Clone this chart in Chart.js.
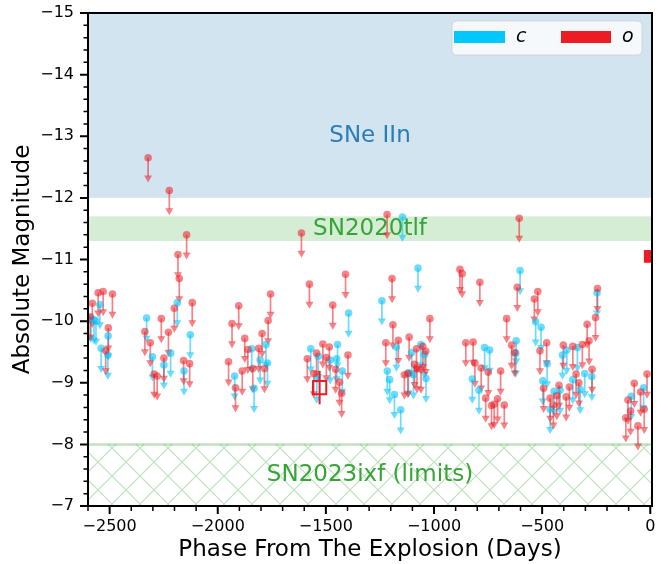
<!DOCTYPE html>
<html>
<head>
<meta charset="utf-8">
<script src="https://cdn.jsdelivr.net/npm/chart.js@4.4.1/dist/chart.umd.min.js"></script>
<style>
  html, body { margin: 0; padding: 0; background: #fff; }
</style>
</head>
<body>
<canvas id="chart" width="670" height="564"></canvas>
<script>
// upper limits in the c filter (phase in days, absolute magnitude)
const cPhase = [-2545, -2572, -2563, -2507, -2539, -2508, -2586,
  -2329, -2302, -2249, -2218, -2187, -2156, -2127,
  -1922, -1843, -1832, -1804, -1777, -1770,
  -1395, -1570, -1535, -1446, -1480, -1450, -1424, -1542,
  -1146, -1074, -1241, -1174, -1103, -1061, -1044, -1216, -1205, -1118, -1095, -1037, -1183, -1154,
  -602, -766, -743, -823, -792, -620, -622,
  -530, -505, -497, -477, -463, -445, -417, -406, -386, -358, -337, -324, -303, -270, -246,
  -88, -31]
const cMag = [-10.27, -10.02, -10.00, -9.76, -9.56, -9.45, -10.05,
  -10.05, -9.42, -9.29, -9.48, -10.30, -9.19, -9.78,
  -9.11, -9.55, -8.91, -9.37, -9.62, -9.32,
  -10.13, -9.55, -9.43, -9.62, -9.37, -9.39, -9.19, -9.06,
  -11.69, -10.86, -10.33, -9.58, -9.49, -9.62, -9.46, -9.19, -9.05, -9.16, -9.13, -9.07, -8.81, -8.56,
  -10.82, -9.57, -9.53, -9.06, -8.88, -9.68, -9.48,
  -9.99, -9.90, -9.03, -9.31, -8.57, -8.86, -8.88, -9.45, -9.53, -9.05, -9.57, -8.89, -9.15, -9.10, -10.46,
  -8.78, -8.92]

// upper limits in the o filter
const oPhase = [-2590, -2580, -2553, -2530, -2487, -2506, -2518,
  -2322, -2224, -2144, -2184, -2178, -2201, -2118, -2261, -2337, -2312, -2294, -2280, -2249, -2228, -2158, -2130,
  -1950, -1934, -1918, -1903, -1887, -1875, -1861, -1838, -1811, -1795, -1784, -1767, -1756,
  -1613, -1576, -1409, -1468, -1586, -1543, -1514, -1484, -1498, -1398, -1556, -1455, -1437, -1427,
  -1217, -1194, -1019, -1190, -1223, -1165, -1115, -1081, -1052, -1038, -1090, -1079, -1060, -1137, -1121,
  -880, -870, -788, -606, -615, -520, -536, -664, -853, -819, -811, -782, -749, -761, -734, -722, -706, -675, -692, -641, -627,
  -479, -510, -493, -463, -448, -432, -422, -389, -402, -374, -358, -343, -330, -314, -283, -292, -269, -253, -244,
  -113, -91, -103, -74, -57, -45, -28, -15]
const oMag = [-10.07, -10.29, -10.46, -10.48, -10.44, -9.89, -9.52,
  -12.65, -12.12, -11.40, -11.08, -10.69, -10.21, -10.30, -10.04, -9.83, -9.65, -9.14, -9.11, -9.40, -9.82, -9.36, -9.31,
  -9.34, -9.96, -8.92, -10.25, -9.19, -9.72, -9.54, -9.23, -9.56, -9.80, -9.23, -10.01, -10.44,
  -11.43, -10.60, -10.76, -10.26, -9.39, -9.48, -9.63, -9.58, -9.41, -9.45, -9.15, -9.22, -9.01, -8.83,
  -11.73, -10.69, -10.04, -9.94, -9.65, -9.69, -9.74, -9.55, -9.59, -9.51, -9.30, -9.23, -9.22, -9.13, -9.15,
  -10.84, -10.77, -10.63, -11.67, -10.55, -10.48, -10.36, -10.04, -9.65, -9.66, -9.32, -9.24, -9.17, -8.75, -8.63, -8.65, -8.74, -8.64, -9.19, -9.61, -9.49,
  -9.65, -9.52, -8.91, -8.75, -8.64, -8.79, -8.96, -8.77, -9.61, -8.93, -9.59, -9.14, -9.00, -9.62, -9.68, -9.95, -9.22, -10.06, -10.53,
  -8.43, -8.54, -8.72, -8.99, -8.30, -8.85, -8.57, -9.14]

// the one detection (open square with error bar) and the point at explosion
const detPhase = [-1529]
const detMag = [-8.92]
const detErr = [0.27]
const expPhase = [0]
const expMag = [-11.05]

// comparison ranges
const iinRange = [-15, -12]
const tlfRange = [-11.7, -11.3]
const ixfRange = [-8, -7]
const limitLen = 0.4

const xTicks = [-2500, -2000, -1500, -1000, -500, 0]
const yTicks = [-15, -14, -13, -12, -11, -10, -9, -8, -7]

const FONT = 'DejaVu Sans'
const cColor = 'rgba(0,195,250,0.58)'
const oColor = 'rgba(237,28,36,0.55)'
const fmt = v => v < 0 ? '\u2212' + Math.abs(v) : String(v)

// hatch pattern for the SN2023ixf limits
const pc = document.createElement('canvas')
pc.width = 28; pc.height = 28
const pg = pc.getContext('2d')
pg.strokeStyle = 'rgba(44,160,44,0.32)'
pg.lineWidth = 1.1
pg.beginPath()
pg.moveTo(-2, -2); pg.lineTo(30, 30)
pg.moveTo(30, -2); pg.lineTo(-2, 30)
pg.stroke()

function drawArrows(ctx, xs, ys, phases, mags, color) {
    ctx.strokeStyle = color
    ctx.fillStyle = color
    ctx.lineWidth = 1.7
    phases.forEach((p, i) => {
        const px = xs.getPixelForValue(p)
        const y0 = ys.getPixelForValue(mags[i])
        const y1 = ys.getPixelForValue(mags[i] + limitLen)
        ctx.beginPath()
        ctx.moveTo(px, y0)
        ctx.lineTo(px, y1 - 6)
        ctx.stroke()
        ctx.beginPath()
        ctx.moveTo(px - 4, y1 - 7)
        ctx.lineTo(px + 4, y1 - 7)
        ctx.lineTo(px, y1)
        ctx.closePath()
        ctx.fill()
    })
}

const decor = {
    id: 'decor',
    beforeDatasetsDraw(chart) {
        const {ctx, chartArea: a, scales: {x, y}} = chart
        ctx.save()
        ctx.beginPath()
        ctx.rect(a.left, a.top, a.right - a.left, a.bottom - a.top)
        ctx.clip()
        // SNe IIn band
        let t = y.getPixelForValue(iinRange[0]), b = y.getPixelForValue(iinRange[1])
        ctx.fillStyle = 'rgba(31,119,180,0.2)'
        ctx.fillRect(a.left, t, a.right - a.left, b - t)
        // SN2020tlf band
        t = y.getPixelForValue(tlfRange[0]); b = y.getPixelForValue(tlfRange[1])
        ctx.fillStyle = 'rgba(44,160,44,0.2)'
        ctx.fillRect(a.left, t, a.right - a.left, b - t)
        // SN2023ixf hatched limits
        t = y.getPixelForValue(ixfRange[0]); b = y.getPixelForValue(ixfRange[1])
        ctx.fillStyle = ctx.createPattern(pc, 'repeat')
        ctx.fillRect(a.left, t, a.right - a.left, b - t)
        ctx.strokeStyle = 'rgba(44,160,44,0.3)'
        ctx.lineWidth = 2.5
        ctx.beginPath()
        ctx.moveTo(a.left, t); ctx.lineTo(a.right, t)
        ctx.stroke()

        const xm = x.getPixelForValue((x.min + x.max) / 2)
        ctx.font = '23px ' + FONT
        ctx.textAlign = 'center'
        ctx.textBaseline = 'middle'
        ctx.fillStyle = '#2a7db9'
        ctx.fillText('SNe IIn', xm, y.getPixelForValue(-13))
        ctx.fillStyle = '#35a535'
        ctx.fillText('SN2020tlf', xm, y.getPixelForValue((tlfRange[0] + tlfRange[1]) / 2))
        ctx.fillText('SN2023ixf (limits)', xm, y.getPixelForValue((ixfRange[0] + ixfRange[1]) / 2))

        drawArrows(ctx, x, y, cPhase, cMag, cColor)
        drawArrows(ctx, x, y, oPhase, oMag, oColor)
        ctx.restore()
    },
    afterDatasetsDraw(chart) {
        const {ctx, chartArea: a, scales: {x, y}} = chart
        ctx.save()
        // error bar on the detection
        ctx.strokeStyle = '#ed1c24'
        ctx.lineWidth = 2
        detPhase.forEach((p, i) => {
            const px = x.getPixelForValue(p)
            ctx.beginPath()
            ctx.moveTo(px, y.getPixelForValue(detMag[i] - detErr[i]))
            ctx.lineTo(px, y.getPixelForValue(detMag[i] + detErr[i]))
            ctx.stroke()
        })
        // axes box
        ctx.strokeStyle = '#000'
        ctx.lineWidth = 2
        ctx.strokeRect(a.left, a.top, a.right - a.left, a.bottom - a.top)
        // ticks, major and minor
        ctx.beginPath()
        xTicks.forEach(v => { const p = x.getPixelForValue(v); ctx.moveTo(p, a.bottom); ctx.lineTo(p, a.bottom + 8) })
        yTicks.forEach(v => { const p = y.getPixelForValue(v); ctx.moveTo(a.left, p); ctx.lineTo(a.left - 8, p) })
        ctx.stroke()
        ctx.lineWidth = 1.5
        ctx.beginPath()
        for (let v = -2600; v <= 0; v += 100) {
            if (v % 500 === 0) continue
            const p = x.getPixelForValue(v)
            ctx.moveTo(p, a.bottom); ctx.lineTo(p, a.bottom + 5)
        }
        for (let k = 0; k <= 40; k++) {
            if (k % 5 === 0) continue
            const p = y.getPixelForValue(-15 + k * 0.2)
            ctx.moveTo(a.left, p); ctx.lineTo(a.left - 4.5, p)
        }
        ctx.stroke()
        ctx.restore()
    },
    afterDraw(chart) {
        const {ctx, chartArea: a} = chart
        // legend box, top right
        const lx = a.right - 200, ly = a.top + 8, lw = 190, lh = 34
        ctx.save()
        ctx.fillStyle = 'rgba(255,255,255,0.8)'
        ctx.strokeStyle = 'rgba(204,204,204,0.8)'
        ctx.lineWidth = 1
        ctx.beginPath()
        ctx.roundRect(lx, ly, lw, lh, 4)
        ctx.fill()
        ctx.stroke()
        ctx.fillStyle = '#00c8ff'
        ctx.fillRect(lx + 2, ly + 10, 51, 12)
        ctx.fillStyle = '#ed1c24'
        ctx.fillRect(lx + 109, ly + 10, 50, 12)
        ctx.fillStyle = '#000'
        ctx.font = 'italic 19px ' + FONT
        ctx.textBaseline = 'middle'
        ctx.textAlign = 'left'
        ctx.fillText('c', lx + 64, ly + 16)
        ctx.fillText('o', lx + 170, ly + 16)
        ctx.restore()
    }
}

const pts = (xs, ys) => xs.map((v, i) => ({x: v, y: ys[i]}))

const ctx = document.getElementById('chart').getContext('2d')
const chart = new Chart(ctx, {
    type: 'scatter',
    data: {
        datasets: [{
            label: 'explosion',
            data: pts(expPhase, expMag),
            pointStyle: 'rect',
            pointRadius: 9,
            pointBackgroundColor: '#ed1c24',
            pointBorderWidth: 0
        }, {
            label: 'detection',
            data: pts(detPhase, detMag),
            pointStyle: 'rect',
            pointRadius: 9.4,
            pointBackgroundColor: 'rgba(0,0,0,0)',
            pointBorderColor: '#ed1c24',
            pointBorderWidth: 2
        }, {
            label: 'o',
            data: pts(oPhase, oMag),
            pointRadius: 3.8,
            pointBackgroundColor: oColor,
            pointBorderWidth: 0
        }, {
            label: 'c',
            data: pts(cPhase, cMag),
            pointRadius: 3.8,
            pointBackgroundColor: cColor,
            pointBorderWidth: 0
        }]
    },
    options: {
        responsive: false,
        animation: false,
        devicePixelRatio: 1,
        layout: {
            padding: {left: 0, right: 18, top: 13, bottom: 0}
        },
        plugins: {
            legend: {display: false},
            tooltip: {enabled: false}
        },
        scales: {
            x: {
                type: 'linear',
                min: -2600,
                max: 8,
                afterBuildTicks: s => { s.ticks = xTicks.map(v => ({value: v})) },
                afterFit: s => {
                    s.height = 58
                    s.paddingLeft = 0; s.paddingRight = 0; s.paddingTop = 0; s.paddingBottom = 0
                },
                grid: {display: false, drawTicks: false},
                border: {display: false},
                ticks: {
                    color: '#000',
                    font: {family: FONT, size: 16},
                    padding: 11,
                    maxRotation: 0,
                    autoSkip: false,
                    callback: v => fmt(v)
                },
                title: {
                    display: true,
                    text: 'Phase From The Explosion (Days)',
                    color: '#000',
                    font: {family: FONT, size: 23},
                    padding: {top: 0, bottom: 0}
                }
            },
            y: {
                type: 'linear',
                reverse: true,
                min: -15,
                max: -7,
                afterBuildTicks: s => { s.ticks = yTicks.map(v => ({value: v})) },
                afterFit: s => {
                    s.width = 88
                    s.paddingLeft = 0; s.paddingRight = 0; s.paddingTop = 0; s.paddingBottom = 0
                },
                grid: {display: false, drawTicks: false},
                border: {display: false},
                ticks: {
                    color: '#000',
                    font: {family: FONT, size: 16},
                    padding: 14,
                    autoSkip: false,
                    callback: v => fmt(v)
                },
                title: {
                    display: true,
                    text: 'Absolute Magnitude',
                    color: '#000',
                    font: {family: FONT, size: 23},
                    padding: {top: 9, bottom: 0}
                }
            }
        }
    },
    plugins: [decor]
})
</script>
</body>
</html>
